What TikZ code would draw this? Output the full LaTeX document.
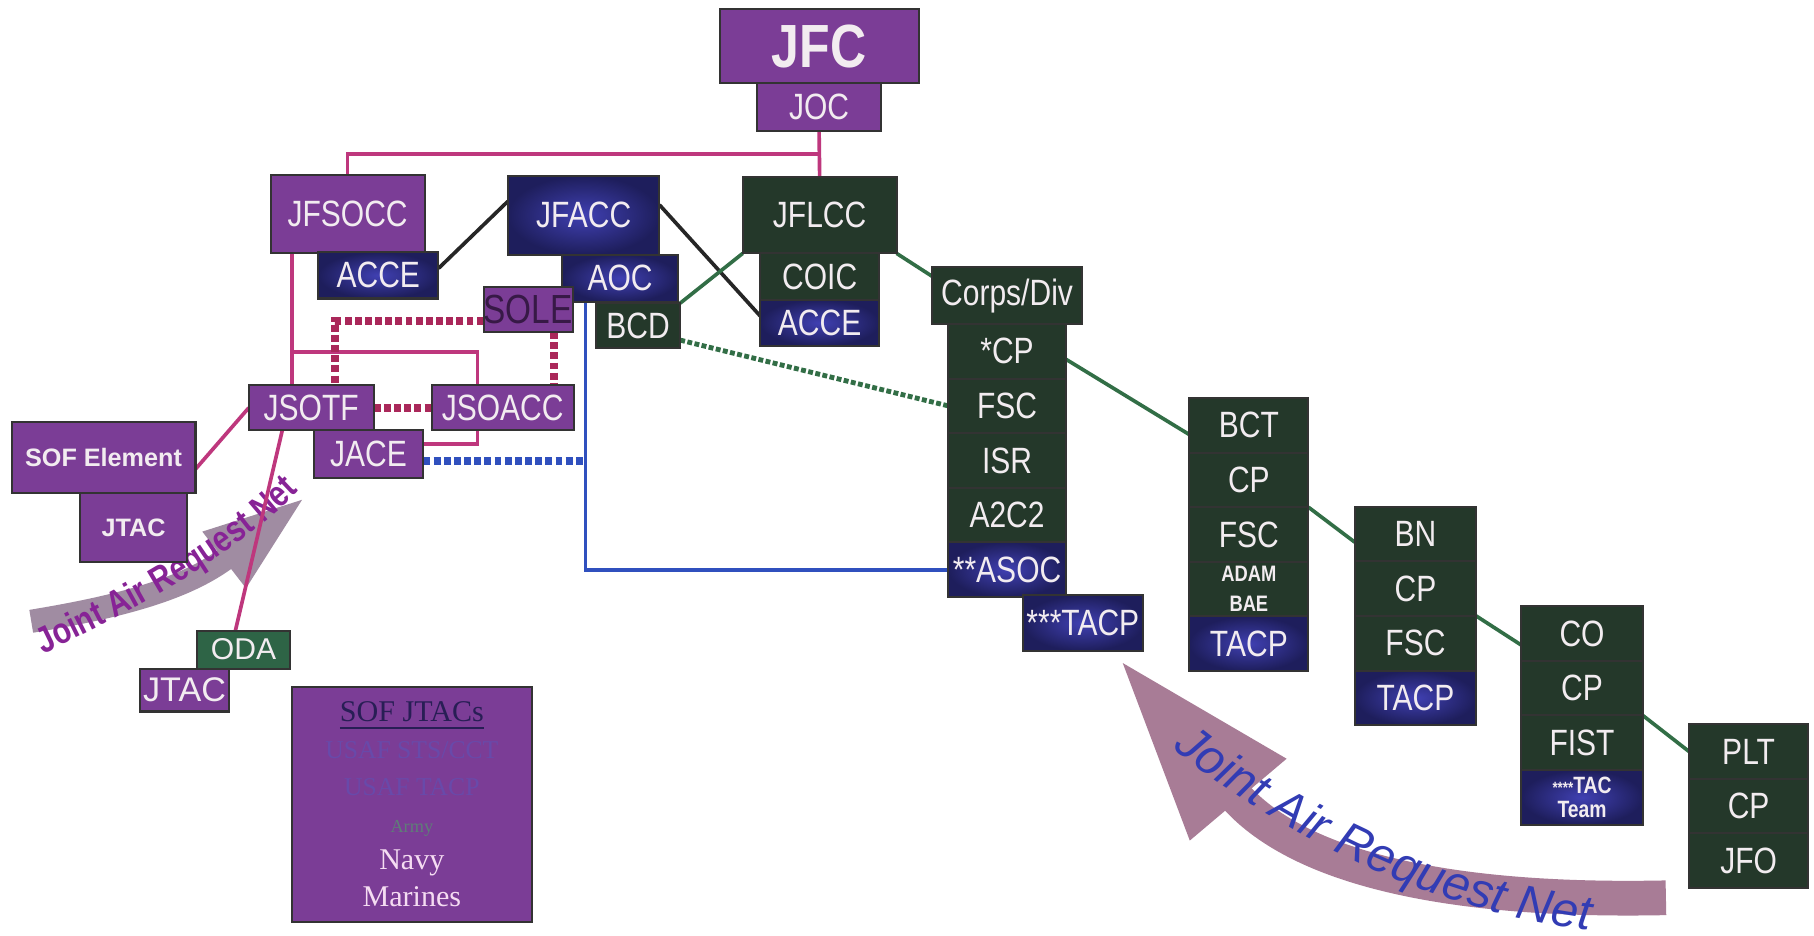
\documentclass[tikz,border=0pt]{standalone}
\usepackage{fontspec}
\setmainfont{Liberation Serif}
\setsansfont{Liberation Sans}
\newfontfamily\narrowsf{Liberation Sans}[FakeStretch=0.82]
\usetikzlibrary{positioning,calc,arrows.meta,decorations.text}

\definecolor{purp}{RGB}{123,61,150}
\definecolor{dgreen}{RGB}{36,56,42}
\definecolor{odagreen}{RGB}{46,100,70}
\definecolor{navyd}{RGB}{30,30,92}
\definecolor{bluem}{RGB}{64,64,178}
\definecolor{boxtext}{RGB}{242,236,240}
\definecolor{soletext}{RGB}{55,25,70}
\definecolor{pinkln}{RGB}{190,55,125}
\definecolor{pinkdot}{RGB}{170,40,90}
\definecolor{greenln}{RGB}{50,110,70}
\definecolor{blueln}{RGB}{48,80,190}
\definecolor{bigarrow}{RGB}{168,124,150}
\definecolor{smallarrow}{RGB}{160,140,162}
\definecolor{nettext}{RGB}{50,60,180}
\definecolor{nettextb}{RGB}{135,35,150}
\definecolor{sofhead}{RGB}{40,30,85}
\definecolor{faintblue}{RGB}{104,74,170}
\definecolor{armygreen}{RGB}{95,125,120}
\definecolor{navytext}{RGB}{245,220,242}

\newcommand\cellfont{\narrowsf\fontsize{9}{10}\selectfont}

\pgfdeclarelayer{bands}
\pgfdeclarelayer{links}
\pgfsetlayers{bands,links,main}

\begin{document}
\begin{tikzpicture}[x=0.1mm,y=-0.1mm,
  unit/.style={draw=black!80,line width=0.5pt,outer sep=0pt,inner sep=0pt,text=boxtext,font=\cellfont},
  purpbox/.style={unit,fill=purp},
  grnbox/.style={unit,fill=dgreen},
  blubox/.style={unit,inner color=bluem,outer color=navyd},
  cell/.style={grnbox,minimum width=#1,minimum height=4.72mm},
  bcell/.style={blubox,minimum width=#1,minimum height=4.72mm},
  pinkline/.style={draw=pinkln,line width=0.9pt},
  pinkdots/.style={draw=pinkdot,line width=2pt,dash pattern=on 1.7pt off 0.8pt},
  bluedots/.style={draw=blueln,line width=2pt,dash pattern=on 1.7pt off 0.8pt},
  greendots/.style={draw=greenln,line width=1.2pt,dash pattern=on 1.2pt off 0.6pt},
  blkline/.style={draw=black!85,line width=0.9pt},
  grnline/.style={draw=greenln,line width=0.9pt},
  blueline/.style={draw=blueln,line width=0.9pt},
  netband/.style={line width=#1,line cap=butt}]

\useasboundingbox (0,0) rectangle (1568,809);

% top of the chain
\node[purpbox,minimum width=17.2mm,minimum height=6.4mm,font=\narrowsf\bfseries\fontsize{15}{16}\selectfont] (jfc) at (708,40) {JFC};
\node[purpbox,minimum width=10.7mm,minimum height=4.1mm,below=0pt of jfc] (joc) {JOC};

\node[grnbox,minimum width=13.3mm,minimum height=6.6mm] (jflcc) at (708.5,186) {JFLCC};
\node[grnbox,minimum width=10.3mm,minimum height=4mm,below=0pt of jflcc] (coic) {COIC};
\node[blubox,minimum width=10.3mm,minimum height=4mm,below=0pt of coic] (acceln) {ACCE};

\node[purpbox,minimum width=13.3mm,minimum height=6.8mm] (jfsocc) at (300.5,185) {JFSOCC};
\node[blubox,minimum width=10.4mm,minimum height=4mm] (acceso) at (327,238) {ACCE};

\node[blubox,minimum width=13.1mm,minimum height=6.8mm] (jfacc) at (504.5,186) {JFACC};
\node[blubox,minimum width=10mm,minimum height=4.1mm] (aoc) at (536,240.5) {AOC};
\node[purpbox,minimum width=7.5mm,minimum height=3.9mm,text=soletext,font=\narrowsf\fontsize{10}{11}\selectfont] (sole) at (456.5,267.5) {SOLE};
\node[grnbox,minimum width=7.3mm,minimum height=3.9mm] (bcd) at (551.5,281.5) {BCD};

% SOF side
\node[purpbox,minimum width=10.8mm,minimum height=3.9mm] (jsotf) at (269,352.5) {JSOTF};
\node[purpbox,minimum width=12.3mm,minimum height=3.9mm] (jsoacc) at (434.5,352.5) {JSOACC};
\node[purpbox,minimum width=9.5mm,minimum height=4.1mm] (jace) at (318.5,392.5) {JACE};
\node[purpbox,minimum width=15.9mm,minimum height=6.1mm,font=\sffamily\bfseries\fontsize{6.2}{7}\selectfont] (sofel) at (89.5,395.5) {SOF Element};
\node[purpbox,minimum width=9.3mm,minimum height=6mm,font=\sffamily\bfseries\fontsize{6.2}{7}\selectfont] (jtacsof) at (115.5,456) {JTAC};
\node[unit,fill=odagreen,minimum width=8.1mm,minimum height=3.3mm,font=\sffamily\fontsize{7.4}{8}\selectfont] (oda) at (210.5,561.5) {ODA};
\node[purpbox,minimum width=7.7mm,minimum height=3.7mm,font=\sffamily\fontsize{8.4}{9}\selectfont] (jtacoda) at (159.5,596.5) {JTAC};
\node[purpbox,minimum width=20.8mm,minimum height=20.3mm,align=center,font=\rmfamily\fontsize{7.4}{9.1}\selectfont] (sofjtacs) at (356,695.5)
  {{\color{sofhead}\underline{SOF JTACs}}\\
   {\color{faintblue}\fontsize{6.3}{9}\selectfont USAF STS/CCT}\\
   {\color{faintblue}\fontsize{6.3}{9}\selectfont USAF TACP}\\
   {\color{armygreen}\fontsize{4.5}{8}\selectfont Army}\\
   {\color{navytext}Navy}\\
   {\color{navytext}Marines}};

% land side stacks
\node[grnbox,minimum width=12.9mm,minimum height=4.9mm] (corpsdiv) at (870.5,255.5) {Corps/Div};
\node[cell=10.2mm,below=0pt of corpsdiv] (cpcorps) {*CP};
\node[cell=10.2mm,below=0pt of cpcorps] (fsccorps) {FSC};
\node[cell=10.2mm,below=0pt of fsccorps] (isr) {ISR};
\node[cell=10.2mm,below=0pt of isr] (atwoc) {A2C2};
\node[bcell=10.2mm,below=0pt of atwoc] (asoc) {**ASOC};
\node[blubox,minimum width=10.4mm,minimum height=4.8mm] (tacpcorps) at (936,538.5) {***TACP};

\node[cell=10.3mm] (bct) at (1079.5,367.6) {BCT};
\node[cell=10.3mm,below=0pt of bct] (cpbct) {CP};
\node[cell=10.3mm,below=0pt of cpbct] (fscbct) {FSC};
\node[cell=10.3mm,below=0pt of fscbct,align=center,font=\narrowsf\bfseries\fontsize{5.5}{7.4}\selectfont] (adam) {ADAM\\BAE};
\node[bcell=10.3mm,below=0pt of adam] (tacpbct) {TACP};

\node[cell=10.5mm] (bn) at (1223.5,461.6) {BN};
\node[cell=10.5mm,below=0pt of bn] (cpbn) {CP};
\node[cell=10.5mm,below=0pt of cpbn] (fscbn) {FSC};
\node[bcell=10.5mm,below=0pt of fscbn] (tacpbn) {TACP};

\node[cell=10.5mm] (co) at (1367.5,547.6) {CO};
\node[cell=10.5mm,below=0pt of co] (cpco) {CP};
\node[cell=10.5mm,below=0pt of cpco] (fist) {FIST};
\node[bcell=10.5mm,below=0pt of fist,align=center,font=\narrowsf\bfseries\fontsize{5.8}{6}\selectfont] (tacteam) {{\fontsize{4}{5}\selectfont****}TAC\\Team};

\node[cell=10.3mm] (plt) at (1511.5,649.6) {PLT};
\node[cell=10.3mm,below=0pt of plt] (cpplt) {CP};
\node[cell=10.3mm,below=0pt of cpplt] (jfo) {JFO};

% request net arrows
\begin{pgfonlayer}{bands}
\fill[white] (0,0) rectangle (1568,809);
\draw[netband=3mm,draw=bigarrow,-{Triangle[length=16mm,width=10mm]}]
  (1440,776) .. controls (1250,780) and (1120,750) .. (967,569);
\path[decorate,decoration={text along path,text align=center,
  text={|\sffamily\itshape\fontsize{12}{14}\selectfont\color{nettext}|Joint Air Request Net}}]
  (1005,640) .. controls (1090,710) and (1230,790) .. (1385,805);
\draw[netband=2mm,draw=smallarrow,-{Triangle[length=9mm,width=5.5mm]}]
  (27,537) .. controls (100,525) and (160,510) .. (265,429);
\path[decorate,decoration={text along path,text align=center,
  text={|\narrowsf\bfseries\fontsize{9}{10}\selectfont\color{nettextb}|Joint Air Request Net}}]
  (38,565) .. controls (110,530) and (190,490) .. (258,425);
\end{pgfonlayer}

\begin{pgfonlayer}{links}
\coordinate (tee) at ($(joc.south)!0.5!(jflcc.north)$);
\draw[pinkline] (joc.south) -- (jflcc.north);
\draw[pinkline] (tee) -| (jfsocc.north);
\coordinate (sodrop) at ($(jfsocc.south west)!0.14!(jfsocc.south east)$);
\coordinate (jsb) at ($(sodrop)!0.75!(sodrop |- jsotf.north)$);
\draw[pinkline] (sodrop) -- (sodrop |- jsotf.north);
\draw[pinkline] (jsb) -- ++(160,0) |- ([yshift=0.9mm]jace.east);
\draw[pinkline] (jsotf.west) -- ([yshift=-1mm]sofel.east);
\draw[pinkline] ([xshift=-2.5mm]jsotf.south) -- ([xshift=-0.7mm]oda.north);

\coordinate (soledrop) at ([xshift=2.2mm]sole.south);
\draw[pinkdots] ([yshift=-1mm]sole.west) -| ($(jsotf.north west)!0.69!(jsotf.north east)$);
\draw[pinkdots] (soledrop) -- (soledrop |- jsoacc.north);
\draw[pinkdots] (jsotf.east) -- (jsoacc.west);

\draw[blkline] ([yshift=0.6mm]acceso.east) -- ([yshift=1.2mm]jfacc.west);
\draw[blkline] ([yshift=0.9mm]jfacc.east) -- ([yshift=0.6mm]acceln.west);

\coordinate (aocdrop) at ($(aoc.south west)!0.2!(aoc.south east)$);
\coordinate (jacee) at ([yshift=-0.6mm]jace.east);
\draw[blueline] (aocdrop) |- (asoc.west);
\draw[bluedots] (jacee) -- (jacee -| aocdrop);

\draw[grnline] (bcd.north east) -- (jflcc.south west);
\draw[grnline] (jflcc.south east) -- ([yshift=1.65mm]corpsdiv.west);
\draw[greendots] ([yshift=-1.25mm]bcd.east) -- (fsccorps.west);
\draw[grnline] ([yshift=-0.7mm]cpcorps.east) -- ([yshift=-0.8mm]bct.west);
\draw[grnline] (cpbct.south east) -- ([yshift=-0.7mm]bn.west);
\draw[grnline] (cpbn.south east) -- ([yshift=-1mm]co.west);
\draw[grnline] (cpco.south east) -- (plt.west);
\end{pgfonlayer}
\end{tikzpicture}
\end{document}
